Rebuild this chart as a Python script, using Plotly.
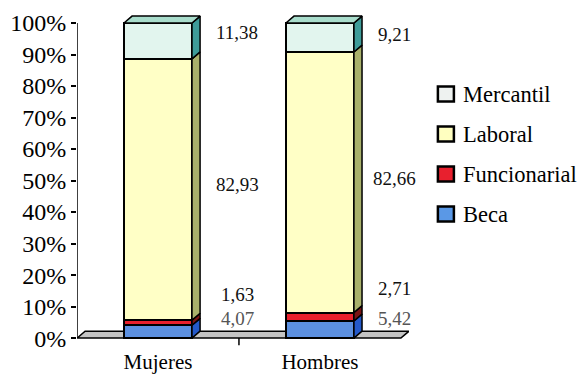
import plotly.graph_objects as go

# Tipo de contrato por sexo (porcentajes)
categories = ["Mujeres", "Hombres"]
series_names = ["Beca", "Funcionarial", "Laboral", "Mercantil"]
beca = [4.07, 5.42]
funcionarial = [1.63, 2.71]
laboral = [82.93, 82.66]
mercantil = [11.38, 9.21]
series_values = [beca, funcionarial, laboral, mercantil]
y_ticks = [0, 10, 20, 30, 40, 50, 60, 70, 80, 90, 100]
y_tick_labels = [f"{v}%" for v in y_ticks]

# Styling
FONT = "'Liberation Serif', 'Times New Roman', serif"
front_colors = ["#5C90E0", "#E8202C", "#FFFFC6", "#E2F5EE"]
side_colors = ["#2459C9", "#7A1414", "#A9B16B", "#3E9C99"]
top_color = "#A9DDCC"
legend_colors = ["#5A98E6", "#E8202E", "#FFFFC0", "#EEF2F0"]
label_colors = ["#555555", "#111111", "#111111", "#111111"]
BAR_W = 0.42
DX, DY = 0.05, 2.2          # depth offset of the 3D faces (data units)
X_RANGE = [-0.5, 1.55]
Y_RANGE = [-2.5, 103.5]
# label placement (x offset from bar centre, y in axis units per series)
label_dx = [0.49, 0.46]
label_y = [[6.35, 13.7, 48.6, 97.1], [6.35, 15.9, 50.8, 96.5]]

ML, MT, MB = 77, 12, 30
W_PX, H_PX = 582, 376
plot_w = (X_RANGE[1] - X_RANGE[0]) * 162
plot_h = H_PX - MT - MB
MR = W_PX - ML - plot_w

xs = list(range(len(categories)))
fig = go.Figure()

# front faces: stacked bars
for name, vals, col in zip(series_names, series_values, front_colors):
    fig.add_trace(go.Bar(
        x=xs, y=vals, name=name, width=BAR_W,
        marker=dict(color=col, line=dict(color="black", width=2)),
        showlegend=False, hoverinfo="name+y",
    ))

# side and top faces built from the cumulative values
for i in xs:
    xl, xr = i - BAR_W / 2, i + BAR_W / 2
    base = 0.0
    for s, vals in enumerate(series_values):
        top = base + vals[i]
        fig.add_trace(go.Scatter(
            x=[xr, xr + DX, xr + DX, xr, xr],
            y=[base, base + DY, top + DY, top, base],
            fill="toself", fillcolor=side_colors[s], mode="lines",
            line=dict(color="black", width=1.5),
            showlegend=False, hoverinfo="skip",
        ))
        base = top
    fig.add_trace(go.Scatter(
        x=[xl, xl + DX, xr + DX, xr, xl],
        y=[base, base + DY, base + DY, base, base],
        fill="toself", fillcolor=top_color, mode="lines",
        line=dict(color="black", width=1.5),
        showlegend=False, hoverinfo="skip",
    ))

shapes = []
# floor slab
shapes.append(dict(
    type="path", xref="x", yref="y", layer="below",
    path=(f"M{X_RANGE[0]},0 L{X_RANGE[0] + DX},{DY} L{1.5 + DX},{DY} "
          f"L1.5,0 Z"),
    fillcolor="#C4C4C4", line=dict(color="black", width=1.5),
))
# value axis line
shapes.append(dict(type="line", xref="x", yref="y", x0=X_RANGE[0], x1=X_RANGE[0],
                   y0=0, y1=100, line=dict(color="black", width=1.5)))
# category separator tick
shapes.append(dict(type="line", xref="x", yref="y", x0=0.5, x1=0.5,
                   y0=0, y1=-2.3, line=dict(color="black", width=1.5)))

annotations = []
# value labels
for i in xs:
    for s, vals in enumerate(series_values):
        annotations.append(dict(
            x=i + label_dx[i], y=label_y[i][s], xref="x", yref="y",
            text=f"{vals[i]:.2f}".replace(".", ","), showarrow=False,
            xanchor="center", yanchor="middle",
            font=dict(family=FONT, size=19, color=label_colors[s]),
        ))

# legend (top entry = last series)
def px_to_paper(px, py):
    return (px - ML) / plot_w, (H_PX - MB - py) / plot_h

legend_rows = [94, 134, 174, 214]
for row, s in zip(legend_rows, reversed(range(len(series_names)))):
    px, py = px_to_paper(438, row)
    shapes.append(dict(
        type="rect", xref="paper", yref="paper",
        xsizemode="pixel", ysizemode="pixel", xanchor=px, yanchor=py,
        x0=0, x1=16, y0=-7.5, y1=7.5,
        fillcolor=legend_colors[s], line=dict(color="black", width=2.5),
    ))
    tx, ty = px_to_paper(461, row)
    annotations.append(dict(
        x=tx, y=ty, xref="paper", yref="paper", text=series_names[s],
        showarrow=False, xanchor="left", yanchor="middle",
        font=dict(family=FONT, size=22.5, color="black"),
    ))

fig.update_layout(
    barmode="stack",
    width=W_PX, height=H_PX,
    margin=dict(l=ML, r=MR, t=MT, b=MB, pad=0, autoexpand=False),
    paper_bgcolor="white", plot_bgcolor="white",
    showlegend=False,
    font=dict(family=FONT, color="black"),
    shapes=shapes, annotations=annotations,
    xaxis=dict(
        range=X_RANGE, tickvals=xs, ticktext=categories,
        ticks="", ticklabelstandoff=1,
        showgrid=False, zeroline=False, showline=False, automargin=False,
        tickfont=dict(family=FONT, size=21, color="black"),
    ),
    yaxis=dict(
        range=Y_RANGE, tickvals=y_ticks, ticktext=y_tick_labels,
        ticks="outside", ticklen=5, tickwidth=1.5, tickcolor="black",
        showgrid=False, zeroline=False, showline=False, automargin=False,
        tickfont=dict(family=FONT, size=24, color="black"),
    ),
)

fig.write_html("out.html")
